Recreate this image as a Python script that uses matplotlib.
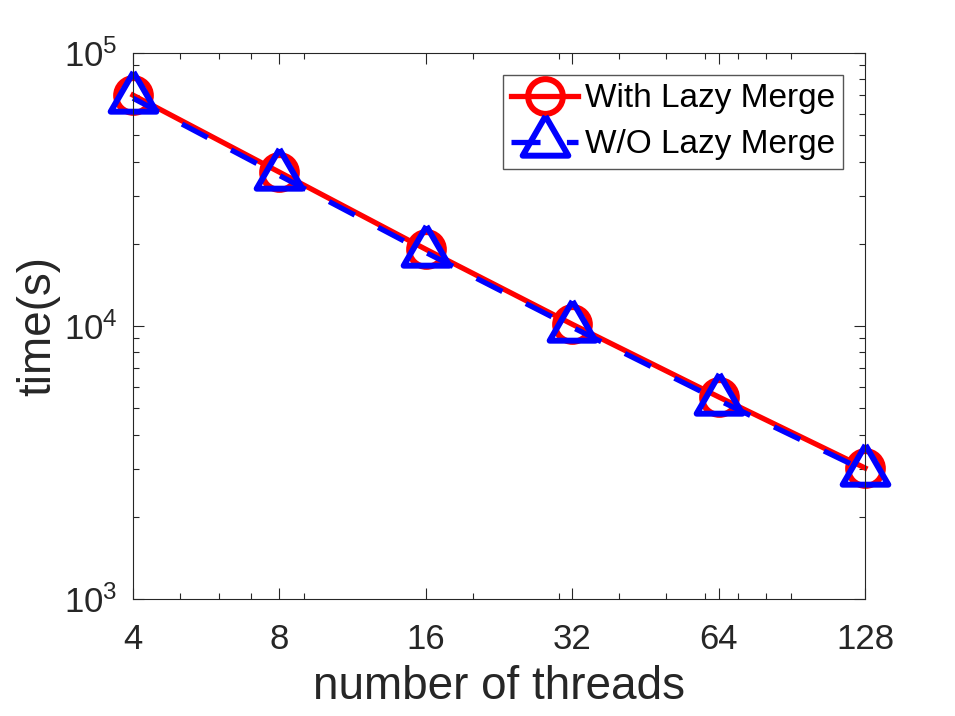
import numpy as np
import matplotlib
matplotlib.use("Agg")
import matplotlib.pyplot as plt
from matplotlib.ticker import FixedLocator, LogLocator, NullFormatter, FixedFormatter

threads = [4, 8, 16, 32, 64, 128]
with_lazy = [70100, 36600, 19100, 10150, 5500, 3020]
without_lazy = [68300, 35600, 18600, 9900, 5350, 2950]
xtick_labels = ["4", "8", "16", "32", "64", "128"]

plt.rcParams['font.family'] = ['Liberation Sans', 'DejaVu Sans']
plt.rcParams['mathtext.fontset'] = 'custom'
plt.rcParams['mathtext.rm'] = 'Liberation Sans'
plt.rcParams['mathtext.default'] = 'regular'

gray = "#262626"

fig = plt.figure(figsize=(9.55, 7.16), dpi=100)
ax = fig.add_axes([133/955, 1-599/716, (865-133)/955, (599-53)/716])

# triangle centred on its centroid, like matlab draws it
tri = [(0, 1.155), (-1, -0.577), (1, -0.577), (0, 1.155)]

ax.plot(threads, with_lazy, color="#FF0000", lw=3.8, marker="o", ms=25,
        mfc="none", mec="#FF0000", mew=4.3, label="With Lazy Merge", clip_on=False)
ax.plot(threads, without_lazy, color="#0000FF", lw=3.8, dashes=(5.5, 5),
        marker=tri, ms=38, mfc="none", mec="#0000FF", mew=4.3,
        label="W/O Lazy Merge", clip_on=False)

ax.set_xscale("log")
ax.set_yscale("log")
ax.set_xlim(4, 128)
ax.set_ylim(1e3, 1e5)

ax.xaxis.set_major_locator(FixedLocator(threads))
ax.xaxis.set_major_formatter(FixedFormatter(xtick_labels))
ax.xaxis.set_minor_locator(LogLocator(base=10, subs=np.arange(2, 10), numticks=20))
ax.xaxis.set_minor_formatter(NullFormatter())
ax.yaxis.set_major_locator(LogLocator(base=10, numticks=10))
ax.yaxis.set_minor_locator(LogLocator(base=10, subs=np.arange(2, 10), numticks=20))
ax.yaxis.set_minor_formatter(NullFormatter())

ax.tick_params(which="both", direction="in", top=True, right=True, color=gray,
               width=0.8, labelcolor=gray, labelsize=25)
ax.tick_params(axis="x", which="major", length=8, pad=17)
ax.tick_params(axis="y", which="major", length=8, pad=11)
ax.tick_params(which="minor", length=4.5)
for s in ax.spines.values():
    s.set_color(gray)
    s.set_linewidth(0.8)

ax.set_xlabel("number of threads", fontsize=33, color=gray, labelpad=7)
ax.set_ylabel("time(s)", fontsize=33, color=gray, labelpad=3)

leg = ax.legend(loc="upper right", fontsize=24, borderaxespad=0.66,
                fancybox=False, framealpha=1, edgecolor="#555555",
                handlelength=2.0, handletextpad=0.2, labelspacing=0.45,
                borderpad=0.25)
leg.get_frame().set_linewidth(1.0)

fig.savefig("out.png", dpi=100)
